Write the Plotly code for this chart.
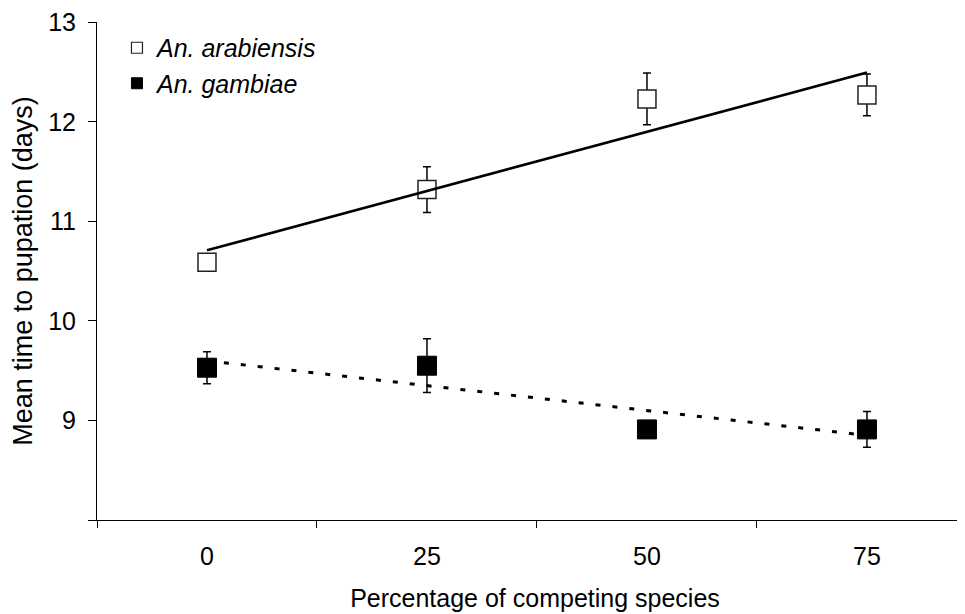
import numpy as np
import plotly.graph_objects as go

# Data
pct = [0, 25, 50, 75]
arab_mean = [10.59, 11.32, 12.23, 12.27]
arab_err = [0.08, 0.23, 0.26, 0.21]
gamb_mean = [9.53, 9.55, 8.91, 8.91]
gamb_err = [0.16, 0.27, 0.07, 0.18]
names = ["An. arabiensis", "An. gambiae"]
y_ticks = [8, 9, 10, 11, 12, 13]
y_ticktext = ["", "9", "10", "11", "12", "13"]

FONT = "Liberation Sans, Arial, sans-serif"

def trend(x, y):
    k, b = np.polyfit(x, y, 1)
    xs = [x[0], x[-1]]
    return xs, [k * v + b for v in xs]

fig = go.Figure()

err_style = dict(type="data", visible=True, color="black", thickness=1.5, width=4)

fig.add_trace(go.Scatter(
    x=pct, y=arab_mean, mode="markers", showlegend=False,
    error_y=dict(array=arab_err, **err_style),
    marker=dict(symbol="square", size=18, color="white", line=dict(color="#222", width=1.5)),
))
fig.add_trace(go.Scatter(
    x=pct, y=gamb_mean, mode="markers", showlegend=False,
    error_y=dict(array=gamb_err, **err_style),
    marker=dict(symbol="square", size=19, color="black", line=dict(color="black", width=1)),
))

tx, ty = trend(pct, arab_mean)
fig.add_trace(go.Scatter(x=tx, y=ty, mode="lines", showlegend=False,
                         line=dict(color="black", width=2.7)))
tx, ty = trend(pct, gamb_mean)
fig.add_trace(go.Scatter(x=tx, y=ty, mode="lines", showlegend=False,
                         line=dict(color="black", width=3, dash="5px,12px")))

# legend-only traces
fig.add_trace(go.Scatter(x=[None], y=[None], mode="markers", name=names[0],
                         marker=dict(symbol="square", size=11, color="white",
                                     line=dict(color="#222", width=1.2))))
fig.add_trace(go.Scatter(x=[None], y=[None], mode="markers", name=names[1],
                         marker=dict(symbol="square", size=11, color="black",
                                     line=dict(color="black", width=1))))

fig.update_layout(
    width=965, height=614,
    margin=dict(l=89, r=0, t=14, b=102, autoexpand=False),
    paper_bgcolor="white", plot_bgcolor="white",
    font=dict(family=FONT, size=25, color="black"),
    legend=dict(x=0.023 * 868 / 876, y=0.994,
                xanchor="left", yanchor="top", bgcolor="rgba(0,0,0,0)",
                font=dict(family=FONT, size=25, style="italic"),
                tracegroupgap=0),
    xaxis=dict(
        range=[-12.5, 87.05], tickvals=pct, ticktext=[str(p) for p in pct],
        ticks="", showline=True, linecolor="black", linewidth=1,
        showgrid=False, zeroline=False, ticklabelstandoff=14,
        tickfont=dict(size=25),
        minor=dict(tickvals=[-12.5, 12.5, 37.5, 62.5], ticks="outside",
                   ticklen=7, tickcolor="black", tickwidth=1, showgrid=False),
        title=dict(text="Percentage of competing species", font=dict(size=25), standoff=20),
    ),
    yaxis=dict(
        range=[8, 13.003], tickvals=y_ticks, ticktext=y_ticktext,
        ticks="outside", ticklen=8, tickcolor="black", tickwidth=1,
        showline=True, linecolor="black", linewidth=1,
        showgrid=False, zeroline=False, tickfont=dict(size=25),
        ticklabelstandoff=7,
        title=dict(text="Mean time to pupation (days)", font=dict(size=27), standoff=9),
    ),
)

fig.write_html("out.html")
